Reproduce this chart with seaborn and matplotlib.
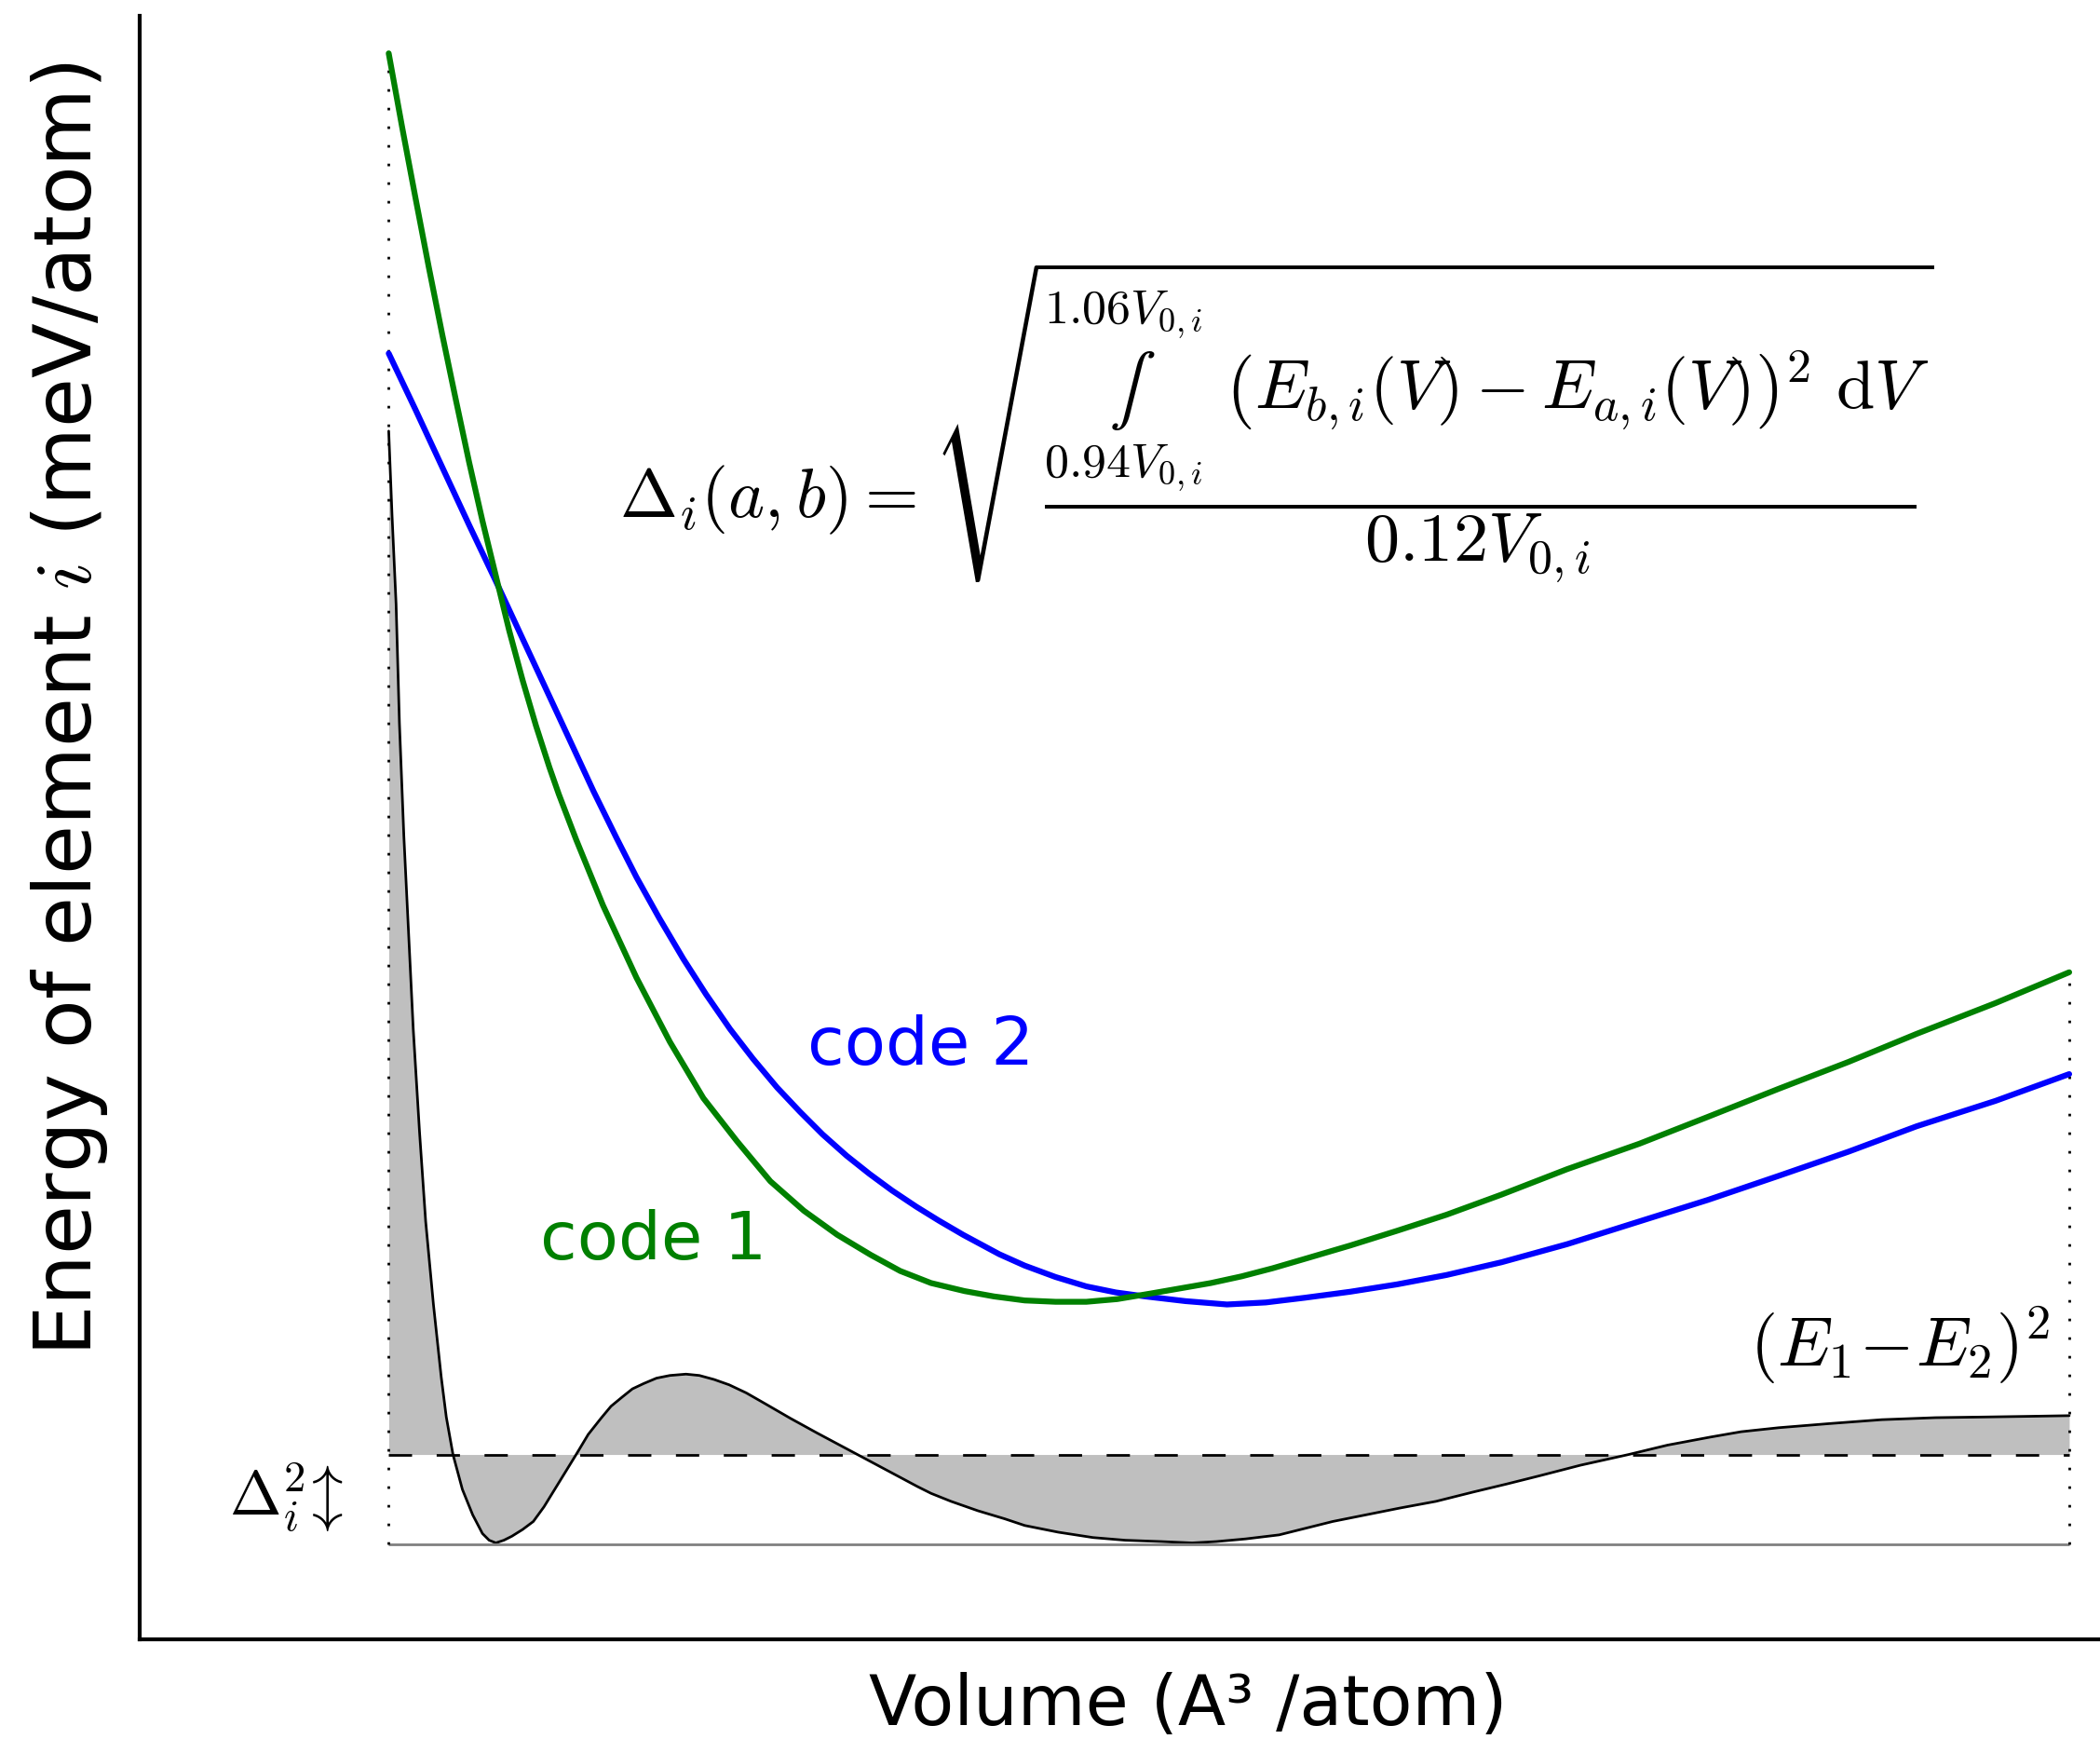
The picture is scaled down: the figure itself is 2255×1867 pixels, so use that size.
import matplotlib
matplotlib.use("Agg")
import matplotlib.pyplot as plt
import pandas as pd
import seaborn as sns

# values (arbitrary volume / energy units, the chart has no ticks)
vol_code1 = [186, 196, 206, 216, 226, 236, 246, 256, 266, 276, 286, 296, 306, 313,
             326, 346, 371, 396, 421, 446, 471, 496, 521, 546, 568, 591, 616, 638,
             661, 684, 707, 730, 754, 777, 800, 823, 846, 870, 904, 939, 976, 1017,
             1066, 1120, 1171, 1224, 1276, 1327, 1386, 1441]
e_code1 = [1184, 1129, 1076, 1024, 974, 926, 879, 835, 794, 753, 716, 682, 651, 631,
           597, 548, 494, 446, 404, 372, 342, 320, 302, 287, 275, 266, 260, 256,
           253, 252, 252, 254, 258, 262, 266, 271, 277, 284, 294, 305, 317, 332,
           351, 370, 390, 411, 431, 452, 475, 498]

vol_code2 = [186, 206, 226, 246, 266, 286, 313, 339, 356, 371, 388, 406, 423, 441,
             458, 476, 493, 510, 528, 545, 562, 580, 597, 615, 642, 661, 684, 707,
             729, 751, 781, 812, 841, 870, 904, 939, 976, 1017, 1066, 1120, 1171,
             1224, 1276, 1327, 1386, 1441]
e_code2 = [960, 918, 875, 832, 790, 747, 689, 633, 598.5, 569, 538.5, 508, 481.5, 455.5,
           433.5, 412, 394, 377, 361, 347.5, 335, 323, 312.5, 302, 287.5, 279, 270.5, 263.5,
           259, 256, 252.5, 250, 251.5, 255, 259.5, 265, 272, 281.5, 295, 312, 328,
           346, 364, 383, 402, 422]

vol_diff = [186, 188.5, 191.5, 194, 197.3, 201, 204.3, 209, 213.6, 219.4, 225.2, 229,
            234, 241, 248.7, 256, 261, 266, 272, 278, 286, 294, 302, 310, 318, 326,
            335, 344.5, 352, 360.5, 368, 376.5, 386, 396, 408, 418, 429, 440.3, 453,
            467, 486, 506, 521, 536, 551, 566, 581, 591, 606, 626, 646, 661, 686,
            712, 736, 763, 786, 804, 826, 851, 871, 891, 916, 941, 968, 996, 1021,
            1045, 1076, 1112, 1141, 1173, 1196, 1224, 1261, 1301, 1341, 1378, 1411,
            1441]
e_diff = [902, 839, 773, 684, 600, 524, 456, 379, 312, 250, 196, 166,
          138, 112, 93, 79, 74, 72, 74, 77, 82, 88, 99, 112, 125, 138,
          153, 165, 174, 181, 187, 191, 195, 197, 198, 197, 194, 190, 184,
          176, 165, 154, 146, 138, 130, 122, 114, 109, 103, 96, 90, 85, 80,
          76, 74, 73, 72, 73, 75, 78, 83, 88, 93, 98, 103, 110, 116,
          122, 130, 138, 145, 151, 155, 158, 161, 164, 165.5, 166, 166.5,
          167]

delta_sq = 138      # dashed level (mean of the squared difference)
e_floor = 71        # zero line of the squared difference
v_lo, v_hi = 186, 1441

formula = ("$\\Delta_i(a,b) = \\sqrt{\\dfrac{\\underset{0.94V_{0,i}}{\\overset{1.06V_{0,i}}{\u222b}}"
           "\\ \\left(E_{b,i}(V) - E_{a,i}(V)\\right)^2\\ \\mathrm{d}V}{0.12V_{0,i}}}$")


def main() -> None:
    sns.set_theme(style="white")
    plt.rcParams["font.family"] = ["DejaVu Sans"]
    plt.rcParams["mathtext.fontset"] = "cm"
    plt.rcParams["text.color"] = "black"
    plt.rcParams["axes.labelcolor"] = "black"

    fig = plt.figure(figsize=(22.55, 18.67), dpi=100)
    ax = fig.add_axes([0.0665, 0.0573, 0.9335, 0.9336])

    c1 = pd.DataFrame({"V": vol_code1, "E": e_code1})
    c2 = pd.DataFrame({"V": vol_code2, "E": e_code2})
    d = pd.DataFrame({"V": vol_diff, "E": e_diff})

    # squared difference and its mean
    ax.fill_between(d["V"], d["E"], delta_sq, color="#bfbfbf", lw=0)
    sns.lineplot(data=d, x="V", y="E", ax=ax, color="black", lw=2)
    ax.hlines(delta_sq, v_lo, v_hi, color="black", lw=2, linestyles=(0, (9, 9.5)))
    ax.hlines(e_floor, v_lo, v_hi, color="#808080", lw=2)
    ax.vlines(v_lo, e_floor, e_code1[0], color="black", lw=2, linestyles=(0, (1, 6.2)))
    ax.vlines(v_hi, e_floor, e_code1[-1], color="black", lw=2, linestyles=(0, (1, 6.2)))

    sns.lineplot(data=c2, x="V", y="E", ax=ax, color="#0000ff", lw=4.5)
    sns.lineplot(data=c1, x="V", y="E", ax=ax, color="#008000", lw=4.5)

    ax.text(499, 429, "code 2", color="#0000ff", fontsize=52, va="baseline")
    ax.text(299, 284, "code 1", color="#008000", fontsize=52, va="baseline")
    ax.text(1427, 204, r"$(E_1\!-\!E_2)^2$", fontsize=54, ha="right", va="baseline")
    ax.text(67, 93, r"$\Delta_i^2\!\updownarrow$", fontsize=48, va="baseline")
    ax.text(358, 908, formula, fontsize=53.5, va="center")

    ax.set_xlim(0, 1464)
    ax.set_ylim(0, 1212)
    ax.set_xticks([])
    ax.set_yticks([])
    for side in ["top", "right"]:
        ax.spines[side].set_visible(False)
    for side in ["left", "bottom"]:
        ax.spines[side].set_color("black")
        ax.spines[side].set_linewidth(3)

    ax.set_xlabel("Volume (A³ /atom)", fontsize=54, labelpad=25)
    ax.xaxis.label.set_x(0.535)
    ax.set_ylabel("Energy of element $i$ (meV/atom)", fontsize=62)
    ax.yaxis.set_label_coords(-0.036, 0.573)
    ax.yaxis.label.set_va("center")

    fig.savefig("out.png", dpi=100)
    plt.close(fig)


if __name__ == "__main__":
    main()
